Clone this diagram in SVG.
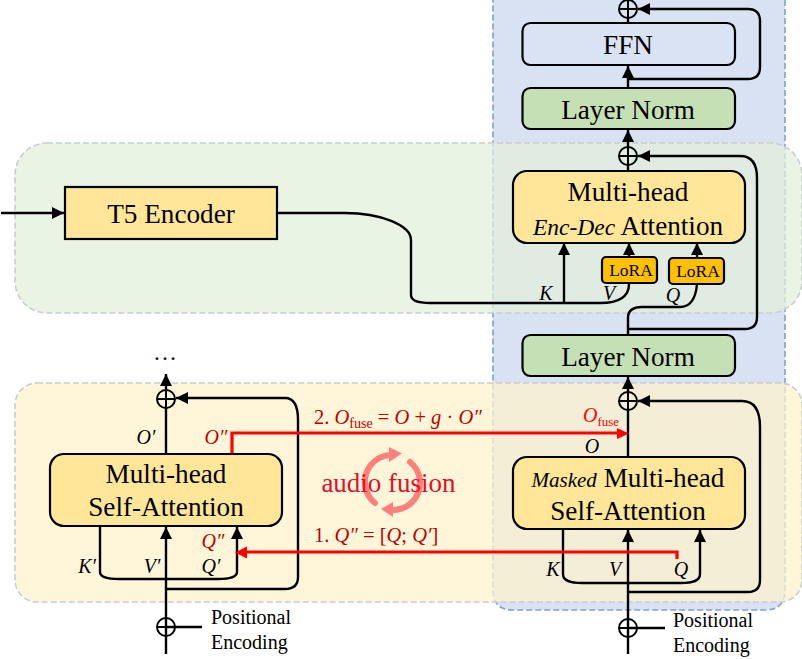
<svg xmlns="http://www.w3.org/2000/svg" width="802" height="659" viewBox="0 0 802 659">
<style>
text{font-family:"Liberation Serif","Times New Roman",serif;fill:#000}
.n{font-size:27.200px;text-anchor:middle}
.i{font-style:italic}
.l{font-size:20px;font-style:italic;text-anchor:middle}
.r{fill:#c00000}
.box{stroke:#000;stroke-width:2.2}
.w{fill:none;stroke:#000;stroke-width:2.4}
.a{marker-end:url(#ah)}
.red{fill:none;stroke:#f00;stroke-width:3.2}
.p{font-size:20px}
.x{fill:none;stroke:#000;stroke-width:2}
.panel{stroke:#c9cdd0;stroke-width:1.6;stroke-dasharray:6 3}
</style>
<defs>
<marker id="ah" markerUnits="userSpaceOnUse" markerWidth="14" markerHeight="14" refX="12" refY="6.5" orient="auto"><path d="M0,0.500L12,6.500L0,12.500Z" fill="#000"/></marker>
</defs>
<g id="panel-blue"><path d="M493,-5H785V590Q785,610 765,610H513Q493,610 493,590Z" fill="#d9e2f3" stroke="#7da0d8" stroke-width="1.6" stroke-dasharray="6 3"/></g>
<g id="panel-green"><rect x="15" y="143" width="787" height="170" rx="32" fill="#e2f0d9" fill-opacity=".72" class="panel"/></g>
<g id="panel-yellow"><rect x="15" y="383" width="787" height="219" rx="22" fill="#fff2cc" fill-opacity=".72" class="panel"/></g>
<g id="connectors">
<path class="w" d="M628,23V18"/>
<path class="w a" d="M628,79H748Q760,79 760,67V21Q760,9 748,9H638"/>
<path class="w a" d="M628,88V66"/>
<path class="w a" d="M628,147V130"/>
<path class="w" d="M628,171V165"/>
<path class="w" d="M628,335V318Q628,307 642,307H680Q695,307 697,284"/>
<path class="w a" d="M628,329H745Q757,329 757,317V178C757,165 752,156 740,156H638"/>
<path class="w a" d="M697,258V243"/>
<path class="w a" d="M629,257V243"/>
<path class="w a" d="M564,303V243"/>
<path class="w" d="M278,213H345C380,213 411,225 411,240V295Q411,303 430,303H600Q629,303 629,284"/>
<path class="w a" d="M1,213H64"/>
<path class="w a" d="M628,392V377"/>
<path class="w" d="M628,457V410"/>
<path class="w a" d="M628,654V530"/>
<path class="w a" d="M628,592H748Q760,592 760,580V427C760,412 755,401 742,401H638"/>
<path class="w a" d="M563,530V574C563,581 570,583 582,583H681C693,583 700,581 700,574V530"/>
<path class="w" d="M628,628H665"/>
<path class="w a" d="M166,390V374"/>
<path class="w" d="M166,454V408"/>
<path class="w a" d="M166,654V527"/>
<path class="w a" d="M166,589H285Q298,589 298,577V420C298,408 295,398 285,398H176"/>
<path class="w a" d="M100,527V572C100,577 107,579 119,579H218C230,579 237,577 237,572V527"/>
<path class="w" d="M166,627H202"/>
<path class="red" d="M232,454V433H618"/>
<path d="M617,428L629,433.500L617,439Z" fill="#f00"/>
<path class="red" d="M677,559V552H246"/>
<path d="M247,546.500L235,552.500L247,558.500Z" fill="#f00"/>
</g>
<g id="node-add-top"><circle cx="628" cy="9" r="9" class="x"/><path class="x" d="M619,9H637M628,0V18"/></g>
<g id="node-ffn"><rect x="522.500" y="23" width="212.500" height="42" rx="8" fill="#dae3f3" class="box"/><text class="n" x="628" y="54">FFN</text></g>
<g id="node-norm-top"><rect x="522.500" y="88" width="212.500" height="41" rx="8" fill="#c5e0b4" class="box"/><text class="n" x="628" y="119">Layer Norm</text></g>
<g id="node-add-enc"><circle cx="628" cy="156" r="9" class="x"/><path class="x" d="M619,156H637M628,147V165"/></g>
<g id="node-enc-dec"><rect x="513" y="171" width="232" height="72" rx="14" fill="#ffe699" class="box"/><text class="n" x="628" y="201">Multi-head</text><text class="n" x="628" y="235"><tspan class="i" font-size="23.500">Enc-Dec</tspan> Attention</text></g>
<g id="node-lora-v"><rect x="602" y="257" width="55" height="26" rx="4" fill="#ffc000" class="box"/><text x="631" y="276" font-size="17.500" text-anchor="middle">LoRA</text></g>
<g id="node-lora-q"><rect x="669" y="258" width="55" height="26" rx="4" fill="#ffc000" class="box"/><text x="698" y="277" font-size="17.500" text-anchor="middle">LoRA</text></g>
<g id="node-t5"><rect x="65" y="187" width="212" height="52" fill="#ffe699" class="box"/><text class="n" x="171" y="223">T5 Encoder</text></g>
<g id="node-norm-mid"><rect x="522.500" y="335" width="212.500" height="41" rx="8" fill="#c5e0b4" class="box"/><text class="n" x="628" y="366">Layer Norm</text></g>
<g id="node-add-dec"><circle cx="628" cy="401" r="9" class="x"/><path class="x" d="M619,401H637M628,392V410"/></g>
<g id="node-masked"><rect x="513" y="457" width="232" height="72" rx="14" fill="#ffe699" class="box"/><text class="n" x="628" y="487"><tspan class="i" font-size="21">Masked</tspan> Multi-head</text><text class="n" x="628" y="520">Self-Attention</text></g>
<g id="node-add-pos"><circle cx="628" cy="628" r="9" class="x"/><path class="x" d="M619,628H637M628,619V637"/></g>
<g id="node-self"><rect x="50" y="454" width="232" height="72" rx="14" fill="#ffe699" class="box"/><text class="n" x="166" y="483">Multi-head</text><text class="n" x="166" y="516">Self-Attention</text></g>
<g id="node-add-left"><circle cx="166" cy="399" r="9" class="x"/><path class="x" d="M157,399H175M166,390V408"/></g>
<g id="node-add-left-pos"><circle cx="166" cy="627" r="9" class="x"/><path class="x" d="M157,627H175M166,618V636"/></g>
<g id="labels">
<text x="165" y="360" font-size="24" text-anchor="middle">…</text>
<text class="l" x="546" y="300">K</text><text class="l" x="609" y="300">V</text><text class="l" x="673" y="302">Q</text>
<text class="l" x="592" y="453">O</text>
<text class="l" x="553" y="576">K</text><text class="l" x="615" y="576">V</text><text class="l" x="681" y="576">Q</text>
<text class="l" x="146" y="444">O′</text><text class="l r" x="216" y="444">O″</text>
<text class="l r" x="213" y="548">Q″</text>
<text class="l" x="87" y="573">K′</text><text class="l" x="152" y="573">V′</text><text class="l" x="211" y="573">Q′</text>
<text class="r" x="314" y="424" font-size="20.500">2. <tspan class="i">O</tspan><tspan font-size="14" dy="4">fuse</tspan><tspan dy="-4"> = </tspan><tspan class="i">O</tspan> + <tspan class="i">g</tspan> · <tspan class="i">O″</tspan></text>
<text class="r" x="314" y="542" font-size="20.500">1. <tspan class="i">Q″</tspan> = [<tspan class="i">Q</tspan>; <tspan class="i">Q′</tspan>]</text>
<text x="583" y="422" font-size="20" class="i" style="fill:#f00">O<tspan font-size="13" dy="4" font-style="normal">fuse</tspan></text>
<text class="p" x="211" y="624">Positional</text><text class="p" x="211" y="649">Encoding</text>
<text class="p" x="673" y="627">Positional</text><text class="p" x="673" y="652">Encoding</text>
</g>
<g id="audio-fusion">
<text x="388.500" y="492" font-size="27" text-anchor="middle" style="fill:#e0102a">audio fusion</text>
<g opacity=".5"><g fill="none" stroke="#ff0a20" stroke-width="6" stroke-linecap="round"><path d="M375,503A27,27 0 0 1 390,455"/><path d="M410,462A27,27 0 0 1 393,510"/></g>
<path d="M389,447L402,453.500L389,462Z" fill="#ff0a20"/><path d="M393,502L381,509L393,517Z" fill="#ff0a20"/></g>
</g>
</svg>
